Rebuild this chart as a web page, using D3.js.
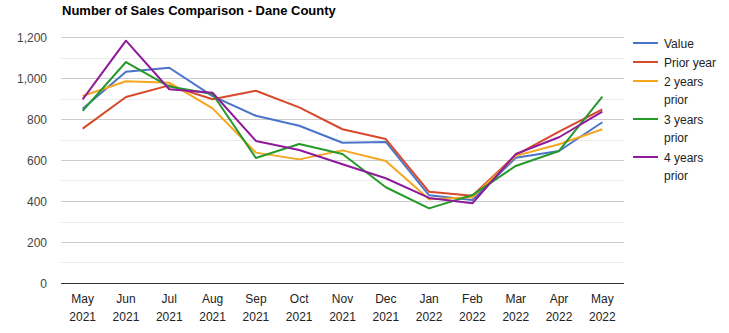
<!DOCTYPE html>
<html><head><meta charset="utf-8">
<script src="https://cdn.jsdelivr.net/npm/d3@7"></script>
<style>body{margin:0;background:#fff;}svg{display:block;font-family:"Liberation Sans",Arial,sans-serif;}</style>
</head><body><svg id="c" width="729" height="333"></svg>
<script>
const months = ["May|2021","Jun|2021","Jul|2021","Aug|2021","Sep|2021","Oct|2021","Nov|2021","Dec|2021","Jan|2022","Feb|2022","Mar|2022","Apr|2022","May|2022"];
const value      = [850,1031,1050,912,816,767,684,688,428,405,611,644,784];
const priorYear  = [753,907,964,896,938,857,750,702,445,426,624,738,847];
const twoYears   = [912,984,977,852,636,603,647,595,408,418,620,677,750];
const threeYears = [840,1078,958,922,610,678,629,467,364,429,571,644,909];
const fourYears  = [896,1182,945,928,693,649,579,511,415,389,629,711,836];
const seriesNames = [["Value"],["Prior year"],["2 years","prior"],["3 years","prior"],["4 years","prior"]];
const colors = ["#4a74c9","#d6492b","#f6a51f","#259a2b","#8f1a9a"];
const yTicks = [0,200,400,600,800,1000,1200];

(function(){
const series = [value, priorYear, twoYears, threeYears, fourYears];
const svg = d3.select("#c");
const pl = 61, pr = 624, pt = 37, pb = 283;
const x = d3.scaleBand().domain(months).range([pl, pr]);
const y = d3.scaleLinear().domain([0,1200]).range([pb, pt]);

svg.append("text").attr("x",62).attr("y",15).attr("font-size",13).attr("font-weight","bold").attr("fill","#000").text("Number of Sales Comparison - Dane County");

d3.range(100,1200,200).forEach(v=>{
  svg.append("line").attr("x1",pl).attr("x2",pr).attr("y1",Math.round(y(v))+0.5).attr("y2",Math.round(y(v))+0.5).attr("stroke","#ebebeb");
});
yTicks.forEach(v=>{
  svg.append("line").attr("x1",pl).attr("x2",pr).attr("y1",Math.round(y(v))+0.5).attr("y2",Math.round(y(v))+0.5).attr("stroke", v===0?"#333":"#cccccc");
  svg.append("text").attr("x",47).attr("y",y(v)+4.5).attr("text-anchor","end").attr("font-size",12).attr("fill","#444").text(d3.format(",")(v));
});

months.forEach(m=>{
  const [a,b] = m.split("|");
  const cx = x(m)+x.bandwidth()/2;
  const t = svg.append("text").attr("text-anchor","middle").attr("font-size",12).attr("fill","#222");
  t.append("tspan").attr("x",cx).attr("y",303).text(a);
  t.append("tspan").attr("x",cx).attr("y",321).text(b);
});

const line = d3.line().x((d,i)=>x(months[i])+x.bandwidth()/2).y(d=>y(d));
series.forEach((s,i)=>{
  svg.append("path").datum(s).attr("d",line).attr("fill","none").attr("stroke",colors[i]).attr("stroke-width",2).attr("stroke-linejoin","round");
});

let ly = 43;
seriesNames.forEach((names,i)=>{
  svg.append("line").attr("x1",633).attr("x2",658).attr("y1",ly).attr("y2",ly).attr("stroke",colors[i]).attr("stroke-width",2);
  names.forEach((n,j)=>{
    svg.append("text").attr("x",664).attr("y",ly+4.5+j*18.5).attr("font-size",12).attr("fill","#222").text(n);
  });
  ly += 19 * names.length;
});
})();
</script></body></html>
